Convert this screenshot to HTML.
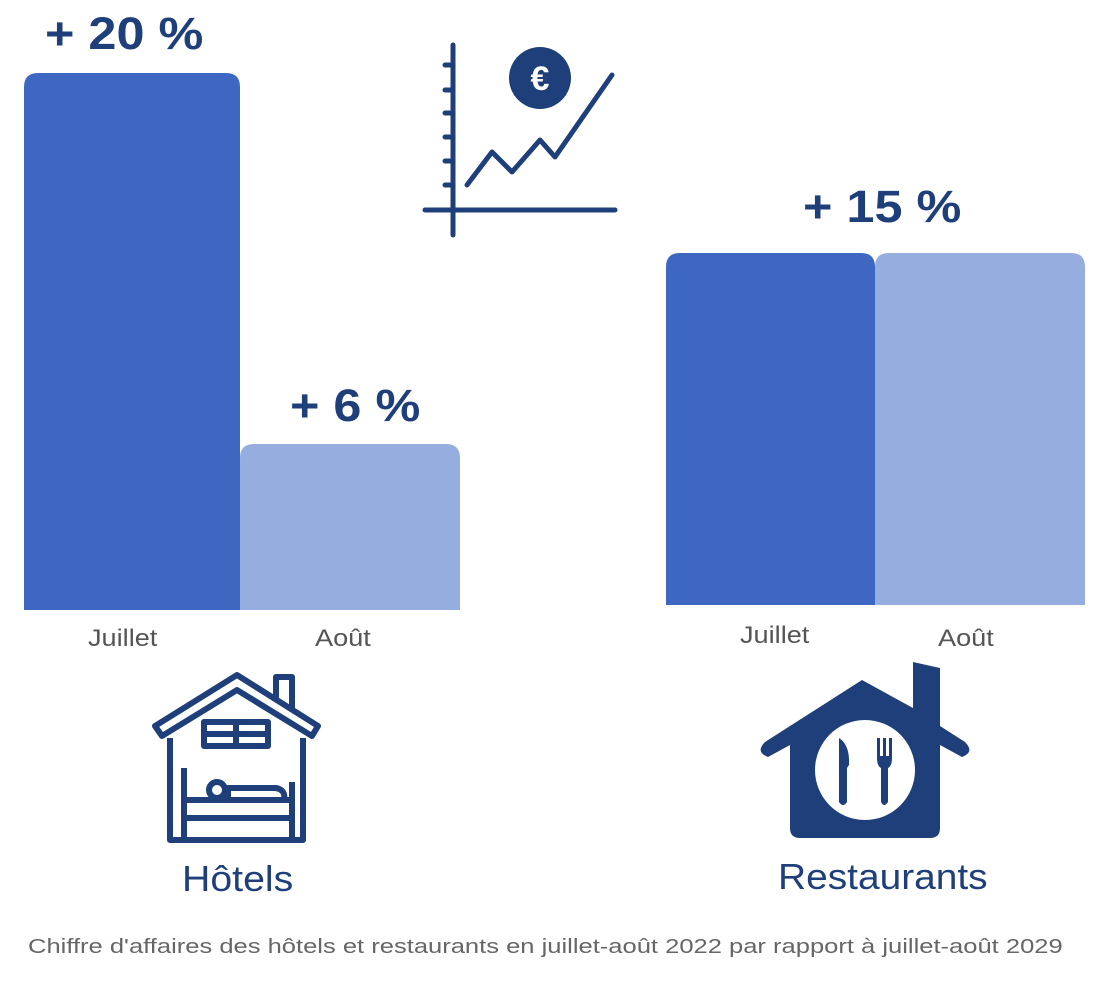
<!DOCTYPE html>
<html><head><meta charset="utf-8"><style>
body{margin:0;background:#fff;width:1112px;height:1000px;overflow:hidden;position:relative;font-family:"Liberation Sans","DejaVu Sans",sans-serif}
.t{position:absolute;white-space:nowrap;transform-origin:0 50%}
.big{font-weight:bold;font-size:45px;color:#1f3f7a;transform:scaleX(1.12)}
.ax{font-size:24px;color:#555;transform:scaleX(1.13)}
</style></head><body>
<svg width="1112" height="1000" style="position:absolute;left:0;top:0">
<path d="M24,610 V87 Q24,73 38,73 H226 Q240,73 240,87 V610Z" fill="#3d67c1"/>
<path d="M240,610 V458 Q240,444 254,444 H446 Q460,444 460,458 V610Z" fill="#95aedf"/>
<path d="M666,605 V267 Q666,253 680,253 H861 Q875,253 875,267 V605Z" fill="#3d67c1"/>
<path d="M875,605 V267 Q875,253 889,253 H1071 Q1085,253 1085,267 V605Z" fill="#95aedf"/>
<g stroke="#1f3f7a" stroke-width="5" fill="none" stroke-linecap="round" stroke-linejoin="round">
<line x1="453" y1="45" x2="453" y2="235"/><line x1="425" y1="210" x2="615" y2="210"/>
<path d="M445,65h8M445,90h8M445,113h8M445,137h8M445,161h8M445,185h8"/>
<polyline points="467,185 492,152 512,172 540,140 555,157 612,75"/>
</g>
<circle cx="540" cy="78" r="31" fill="#1f3f7a"/>
<text x="540" y="90" fill="#fff" font-size="34" font-weight="bold" text-anchor="middle" font-family="Liberation Sans">€</text>
<g stroke="#1f3f7a" stroke-width="6" fill="none" stroke-linejoin="round">
<path d="M155,726 L237,675 L318,726 L312,736 L237,690 L162,736Z"/>
<path d="M276,700 V677 H292 V710"/>
<path d="M170,738 V840 H303 V738"/>
<rect x="204" y="722" width="64" height="24"/><path d="M204,734h64M236,722v24"/>
<path d="M184,768 V840 M292,782 V840 M184,818 H292 M184,800 H292 V782"/>
<circle cx="217" cy="790" r="8"/>
<path d="M228,800 V788 H276 Q286,790 284,800"/>
</g>
<path d="M862,680 L765,742 Q755,752 768,757 L790,745 V828 Q790,838 800,838 H930 Q940,838 940,828 V745 L962,757 Q975,752 965,742 L940,726 V668 L913,662 V708 Z" fill="#1f3f7a"/>
<circle cx="865" cy="770" r="50" fill="#fff"/>
<path d="M839,738 Q850,745 849,765 L847,768 V802 Q843,808 839,802Z" fill="#1f3f7a"/>
<path d="M877,738 V758 Q877,766 881,768 V802 Q884,808 888,802 V768 Q892,766 892,758 V738 H889 V756 H886 V738 H883 V756 H880 V738Z" fill="#1f3f7a"/>
</svg>
<div class="t big" style="left:45px;top:8px">+ 20 %</div>
<div class="t big" style="left:290px;top:380px">+ 6 %</div>
<div class="t big" style="left:803px;top:181px">+ 15 %</div>
<div class="t ax" style="left:88px;top:625px">Juillet</div>
<div class="t ax" style="left:315px;top:625px">Août</div>
<div class="t ax" style="left:740px;top:622px">Juillet</div>
<div class="t ax" style="left:938px;top:625px">Août</div>
<div class="t" style="left:182px;top:858px;font-size:36px;color:#1f3f7a;transform:scaleX(1.09)">Hôtels</div>
<div class="t" style="left:778px;top:856px;font-size:36px;color:#1f3f7a;transform:scaleX(1.08)">Restaurants</div>
<div class="t" style="left:28px;top:936px;font-size:20px;color:#666;transform:scaleX(1.277)">Chiffre d'affaires des hôtels et restaurants en juillet-août 2022 par rapport à juillet-août 2029</div>
</body></html>
